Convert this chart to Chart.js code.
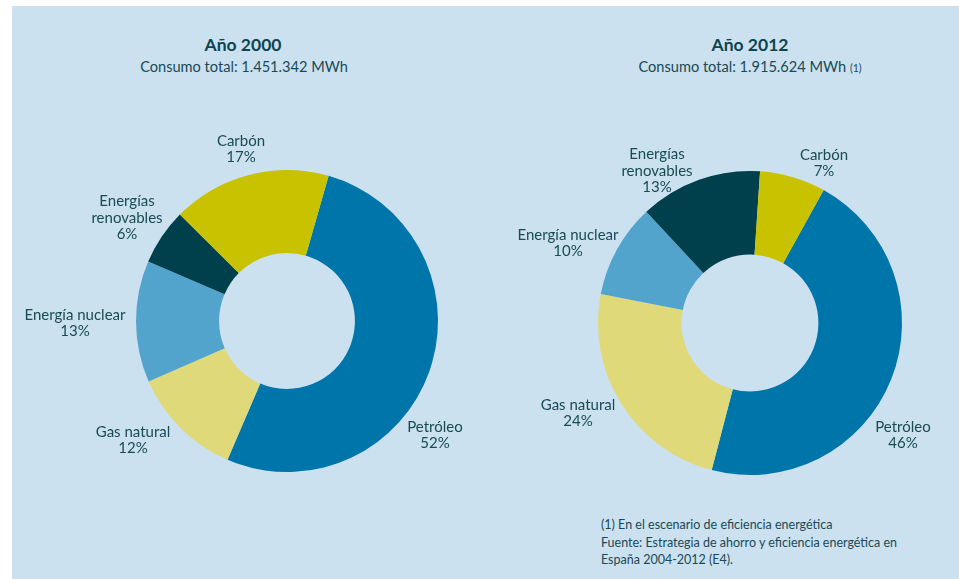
<!DOCTYPE html>
<html><head><meta charset="utf-8">
<script src="https://cdn.jsdelivr.net/npm/chart.js@4.4.0/dist/chart.umd.min.js"></script>
<style>
html,body{margin:0;padding:0;background:#fff;width:959px;height:579px;overflow:hidden}
#panel{position:absolute;left:12px;top:6px;width:947px;height:573px;background:#cce1ef}
canvas{position:absolute}
.t{position:absolute;width:400px;text-align:center;font-family:Lato,sans-serif;color:#0d4450;white-space:nowrap}
.h{font-weight:bold;font-size:17.5px}
.s{font-size:14.6px;color:#184a57}
.s small{font-size:10.5px}
#foot{position:absolute;left:601px;top:516px;font-family:Lato,sans-serif;font-size:12.5px;color:#184a57;line-height:17.5px;white-space:nowrap}
</style></head><body>
<div id="panel"></div>
<div class="t h" style="left:43px;top:34px">Año 2000</div>
<div class="t s" style="left:44px;top:58px">Consumo total: 1.451.342 MWh</div>
<div class="t h" style="left:550px;top:34px">Año 2012</div>
<div class="t s" style="left:550px;top:58px">Consumo total: 1.915.624 MWh <small>(1)</small></div>
<div id="foot">(1) En el escenario de eficiencia energética<br>Fuente: Estrategia de ahorro y eficiencia energética en<br>España 2004-2012 (E4).</div>
<canvas id="c1" width="480" height="579" style="left:0;top:0"></canvas>
<canvas id="c2" width="479" height="579" style="left:480px;top:0"></canvas>
<script>
// ---- data ----
const categories = ['Petróleo', 'Gas natural', 'Energía nuclear', 'Energías renovables', 'Carbón'];
const labelText = ['Petróleo', 'Gas natural', 'Energía nuclear', 'Energías\nrenovables', 'Carbón'];
const values2000 = [52, 12, 13, 6, 17];
const values2012 = [46, 24, 10, 13, 7];
const colors = ['#0075aa', '#dfd97a', '#52a4cd', '#00404d', '#c8c200'];

// ---- layout (label offsets from donut centre, px) ----
const offsets2000 = [[148, 114], [-154, 119], [-212, 2], [-160, -103], [-46, -172]];
const offsets2012 = [[153, 112], [-172, 90], [-182, -80], [-93, -152], [74, -160]];

const labelPlugin = {
  id: 'sliceLabels',
  afterDraw(chart, args, opts) {
    const ctx = chart.ctx;
    const meta = chart.getDatasetMeta(0);
    const vals = chart.data.datasets[0].data;
    const cx = meta.data[0].x, cy = meta.data[0].y;
    ctx.save();
    ctx.font = '15px Lato, sans-serif';
    ctx.fillStyle = '#184a57';
    ctx.textAlign = 'center';
    ctx.textBaseline = 'middle';
    const lh = 16.5;
    vals.forEach((v, i) => {
      const lines = labelText[i].split('\n').concat([v + '%']);
      const [dx, dy] = opts.offsets[i];
      const y0 = cy + dy - (lines.length - 1) * lh / 2;
      lines.forEach((ln, k) => ctx.fillText(ln, cx + dx, y0 + k * lh));
    });
    ctx.restore();
  }
};

function makeChart(id, values, rotation, padding, offsets) {
  return new Chart(document.getElementById(id), {
    type: 'doughnut',
    data: {
      labels: categories,
      datasets: [{ data: values, backgroundColor: colors, borderWidth: 0, hoverOffset: 0 }]
    },
    options: {
      responsive: false,
      animation: false,
      rotation: rotation,
      cutout: '45%',
      layout: { padding: padding },
      events: [],
      plugins: {
        legend: { display: false },
        tooltip: { enabled: false },
        sliceLabels: { offsets: offsets }
      }
    },
    plugins: [labelPlugin]
  });
}

makeChart('c1', values2000, 16, { left: 136, right: 42, top: 170, bottom: 107 }, offsets2000);
makeChart('c2', values2012, 29, { left: 118, right: 57, top: 171, bottom: 104 }, offsets2012);
</script>
</body></html>
